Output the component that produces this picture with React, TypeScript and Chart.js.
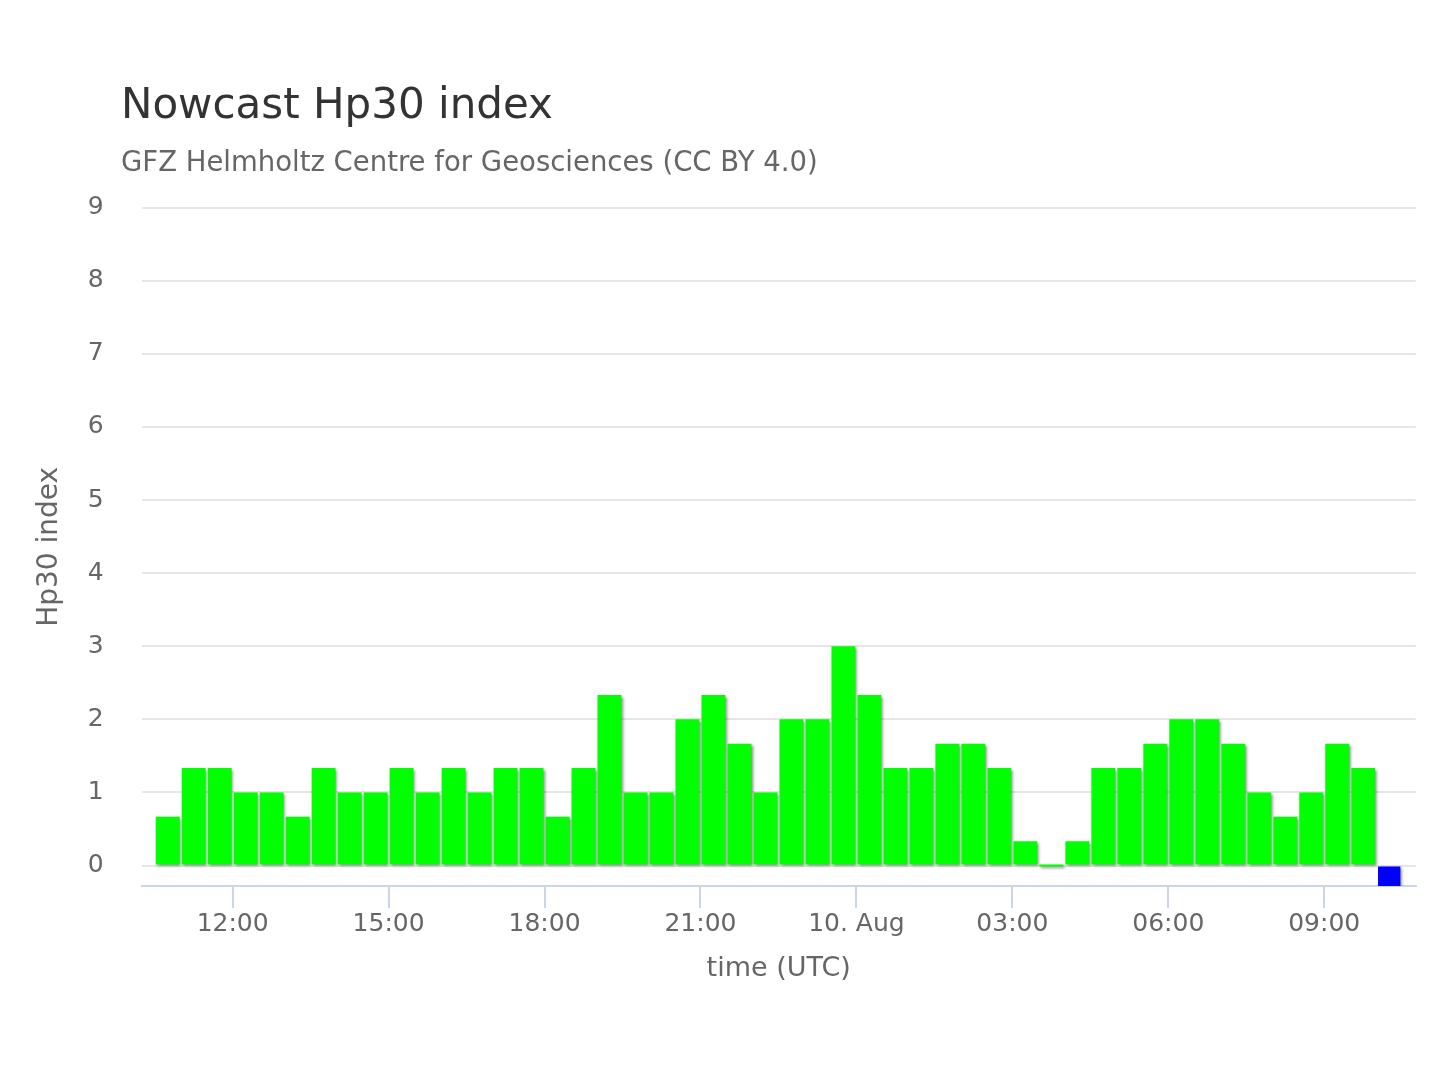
import React, { useEffect, useRef } from 'react';
import { Chart, registerables } from 'chart.js';

Chart.register(...registerables);

const FONT = '"DejaVu Sans", Verdana, sans-serif';

const TITLE = 'Nowcast Hp30 index';
const SUBTITLE = 'GFZ Helmholtz Centre for Geosciences (CC BY 4.0)';
const Y_TITLE = 'Hp30 index';
const X_TITLE = 'time (UTC)';

// Centre of each 30-minute interval, in hours since 9 Aug 00:00 UTC
const hp30Hours = [
  10.75, 11.25, 11.75, 12.25, 12.75, 13.25, 13.75, 14.25, 14.75, 15.25,
  15.75, 16.25, 16.75, 17.25, 17.75, 18.25, 18.75, 19.25, 19.75, 20.25,
  20.75, 21.25, 21.75, 22.25, 22.75, 23.25, 23.75, 24.25, 24.75, 25.25,
  25.75, 26.25, 26.75, 27.25, 27.75, 28.25, 28.75, 29.25, 29.75, 30.25,
  30.75, 31.25, 31.75, 32.25, 32.75, 33.25, 33.75,
];

const hp30Values = [
  0.667, 1.333, 1.333, 1, 1, 0.667, 1.333, 1, 1, 1.333,
  1, 1.333, 1, 1.333, 1.333, 0.667, 1.333, 2.333, 1, 1,
  2, 2.333, 1.667, 1, 2, 2, 3, 2.333, 1.333, 1.333,
  1.667, 1.667, 1.333, 0.333, 0, 0.333, 1.333, 1.333, 1.667, 2,
  2, 1.667, 1, 0.667, 1, 1.667, 1.333,
];

// Latest (incomplete) nowcast interval
const nowcastHours = [34.25];
const nowcastValues = [-0.28];

const yTickValues = [0, 1, 2, 3, 4, 5, 6, 7, 8, 9];
const xTickHours = [12, 15, 18, 21, 24, 27, 30, 33];
const xTickLabels = ['12:00', '15:00', '18:00', '21:00', '10. Aug', '03:00', '06:00', '09:00'];

const X_MIN = 10.25;
const X_MAX = 34.76;
const Y_MIN = -0.28;
const Y_MAX = 9;

const shadowPlugin = {
  id: 'barShadow',
  beforeDatasetsDraw(chart: any) {
    const ctx = chart.ctx;
    ctx.save();
    ctx.shadowColor = 'rgba(0,0,0,0.5)';
    ctx.shadowBlur = 3;
    ctx.shadowOffsetX = 1.5;
    ctx.shadowOffsetY = 1.5;
  },
  afterDatasetsDraw(chart: any) {
    chart.ctx.restore();
  },
};

const headerPlugin = {
  id: 'header',
  afterDraw(chart: any) {
    const ctx = chart.ctx;
    ctx.save();
    ctx.textAlign = 'left';
    ctx.textBaseline = 'alphabetic';
    ctx.fillStyle = '#333333';
    ctx.font = `42px ${FONT}`;
    ctx.fillText(TITLE, 121, 118);
    ctx.fillStyle = '#666666';
    ctx.font = `27.5px ${FONT}`;
    ctx.fillText(SUBTITLE, 121, 171);
    ctx.restore();
  },
};

export default function App() {
  const canvasRef = useRef<HTMLCanvasElement | null>(null);

  useEffect(() => {
    const canvas = canvasRef.current;
    if (!canvas) return;
    const chart = new Chart(canvas, {
      type: 'bar',
      data: {
        datasets: [
          {
            label: 'Hp30',
            data: hp30Hours.map((x, i) => ({ x, y: hp30Values[i] })),
            backgroundColor: '#00ff00',
            borderWidth: 0,
            barPercentage: 0.92,
            categoryPercentage: 1,
            minBarLength: 2,
            stack: 'hp',
          },
          {
            label: 'Nowcast',
            data: nowcastHours.map((x, i) => ({ x, y: nowcastValues[i] })),
            backgroundColor: '#0000ff',
            borderWidth: 0,
            barPercentage: 0.86,
            categoryPercentage: 1,
            stack: 'hp',
          },
        ],
      },
      options: {
        responsive: false,
        animation: false,
        events: [],
        layout: { padding: { top: 207.7, left: 0, right: 24.3, bottom: 0 } },
        plugins: {
          legend: { display: false },
          tooltip: { enabled: false },
          title: { display: false },
        },
        scales: {
          x: {
            type: 'linear',
            min: X_MIN,
            max: X_MAX,
            offset: false,
            stacked: true,
            afterBuildTicks: (s: any) => {
              s.ticks = xTickHours.map((v) => ({ value: v }));
            },
            afterFit: (s: any) => {
              s.height = 194;
            },
            grid: {
              offset: false,
              drawOnChartArea: false,
              drawTicks: true,
              tickLength: 22,
              tickWidth: 2,
              tickColor: '#ccd6eb',
              color: '#ccd6eb',
              lineWidth: 2,
            },
            border: { display: true, color: '#ccd6eb', width: 2 },
            ticks: {
              autoSkip: false,
              maxRotation: 0,
              minRotation: 0,
              padding: 1,
              color: '#666666',
              font: { family: FONT, size: 25 },
              callback: (v: any) => {
                const i = xTickHours.indexOf(Number(v));
                return i >= 0 ? xTickLabels[i] : '';
              },
            },
            title: {
              display: true,
              text: X_TITLE,
              color: '#666666',
              font: { family: FONT, size: 27 },
              padding: { top: 0, bottom: 95 },
            },
          },
          y: {
            type: 'linear',
            min: Y_MIN,
            max: Y_MAX,
            stacked: true,
            afterBuildTicks: (s: any) => {
              s.ticks = yTickValues.map((v) => ({ value: v }));
            },
            afterFit: (s: any) => {
              s.width = 141.7;
            },
            grid: { color: '#e6e6e6', lineWidth: 2, drawTicks: false },
            border: { display: false },
            ticks: {
              padding: 38,
              color: '#666666',
              font: { family: FONT, size: 25 },
            },
            title: {
              display: true,
              text: Y_TITLE,
              color: '#666666',
              font: { family: FONT, size: 28 },
              padding: { top: 33, bottom: 0 },
            },
          },
        },
      } as any,
      plugins: [shadowPlugin, headerPlugin],
    });
    return () => chart.destroy();
  }, []);

  return (
    <div style={{ position: 'absolute', left: 0, top: 0, width: 1440, height: 1080, background: '#ffffff' }}>
      <canvas ref={canvasRef} width={1440} height={1080} />
    </div>
  );
}
